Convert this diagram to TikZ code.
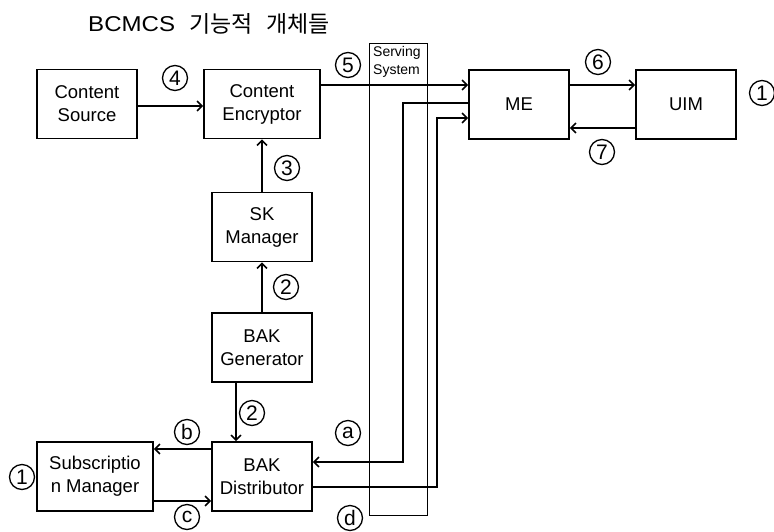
\documentclass[tikz,border=0pt]{standalone}
\usepackage{fontspec}
\setmainfont{Liberation Sans}
\newfontfamily\cjk{Noto Sans CJK KR}
\usetikzlibrary{arrows.meta}
\begin{document}
\begin{tikzpicture}[x=1pt,y=-1pt,line join=miter,
  box/.style={draw, line width=1.6pt, minimum width=100pt, minimum height=69pt, align=center, inner sep=0pt, font=\fontsize{18.5}{23}\selectfont},
  conn/.style={line width=1.6pt},
  arr/.style={conn, -{Straight Barb[length=5pt,width=10pt]}},
  num/.style={draw, circle, line width=1.3pt, minimum size=25pt, inner sep=0pt, font=\fontsize{21}{21}\selectfont},
  small/.style={anchor=base west, inner sep=0pt, font=\fontsize{14}{17}\selectfont},
  ttl/.style={anchor=base west, inner sep=0pt, font=\fontsize{21.5}{22}\selectfont}
]
\useasboundingbox (0,0) rectangle (774,531);

% title
\node[ttl] (t1) at (88,31) {\scalebox{1.12}[1]{BCMCS}};
\node[ttl, font=\fontsize{23}{23}\selectfont] (t2) at (189,32) {\cjk 기능적};
\node[ttl, font=\fontsize{23}{23}\selectfont] (t3) at (266,32) {\cjk 개체들};

% serving system
\node[draw, line width=1pt, minimum width=58pt, minimum height=472pt, inner sep=0pt] (ss) at (398,279) {};
\node[small] (ss1) at (373,56) {Serving};
\node[small] (ss2) at (373,74) {System};

% boxes
\node[box] (cs) at (87,104) {Content\\Source};
\node[box, minimum width=116pt] (ce) at (262,104) {Content\\Encryptor};
\node[box] (sk) at (262,227) {SK\\Manager};
\node[box] (bg) at (262,347.5) {BAK\\Generator};
\node[box, minimum width=116pt] (sm) at (95,476.5) {Subscriptio\\n Manager};
\node[box] (bd) at (262,476.5) {BAK\\Distributor};
\node[box] (me) at (519,104.5) {ME};
\node[box] (uim) at (686,104.5) {UIM};

% helper coordinates
\coordinate (h85) at (0,85);
\coordinate (h103) at (0,103);
\coordinate (h106) at (0,106);
\coordinate (h118) at (0,118);
\coordinate (h128) at (0,128);
\coordinate (h449) at (0,449);
\coordinate (h462) at (0,462);
\coordinate (h487) at (0,487);
\coordinate (h501) at (0,501);
\coordinate (v236) at (236,0);
\coordinate (va) at (403,0);
\coordinate (vd) at (437,0);

% connectors
\draw[arr] (cs.east |- h106) -- (ce.west |- h106);
\draw[arr] (sk.north) -- (ce.south);
\draw[arr] (bg.north) -- (sk.south);
\draw[arr] (bg.south -| v236) -- (bd.north -| v236);
\draw[arr] (ce.east |- h85) -- (me.west |- h85);
\draw[arr] (me.east |- h85) -- (uim.west |- h85);
\draw[arr] (uim.west |- h128) -- (me.east |- h128);
\draw[arr] (me.west |- h103) -- (va |- h103) -- (va |- h462) -- (bd.east |- h462);
\draw[arr] (bd.east |- h487) -- (vd |- h487) -- (vd |- h118) -- (me.west |- h118);
\draw[arr] (bd.west |- h449) -- (sm.east |- h449);
\draw[arr] (sm.east |- h501) -- (bd.west |- h501);

% labels
\node[num] (n4) at (175,78) {4};
\node[num] (n3) at (287,168) {3};
\node[num] (n5) at (348,65) {5};
\node[num] (n6) at (598,62) {6};
\node[num] (n7) at (602,152) {7};
\node[num] (n1a) at (762,93) {1};
\node[num] (n2a) at (286,287) {2};
\node[num] (n2b) at (252,413) {2};
\node[num] (la) at (348,433) {a};
\node[num] (lb) at (187,432) {b};
\node[num] (lc) at (187,517) {c};
\node[num] (ld) at (350,518) {d};
\node[num] (n1b) at (22,477) {1};
\end{tikzpicture}
\end{document}
